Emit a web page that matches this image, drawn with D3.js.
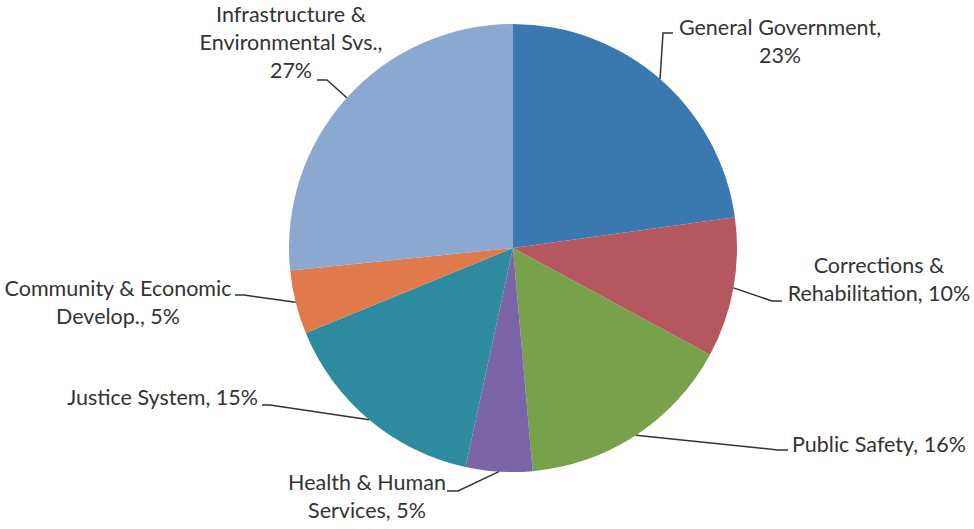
<!DOCTYPE html>
<html>
<head>
<meta charset="utf-8">
<script src="https://cdn.jsdelivr.net/npm/d3@7"></script>
<style>
  body { margin: 0; background: #fff; }
  text { font-family: Lato, "Open Sans", sans-serif; fill: #333; }
</style>
</head>
<body>
<div id="chart"></div>
<script>
// Slice data (clockwise from 12 o'clock)
var categories = ["General Government", "Corrections & Rehabilitation", "Public Safety",
    "Health & Human Services", "Justice System", "Community & Economic Develop.",
    "Infrastructure & Environmental Svs."];
var values = [22.8, 10.1, 15.7, 4.8, 15.4, 4.6, 26.6];
// Label text lines as printed on the chart ({p} is the percentage)
var labelLines = [
    ["General Government,", "{p}"],
    ["Corrections &", "Rehabilitation, {p}"],
    ["Public Safety, {p}"],
    ["Health & Human", "Services, {p}"],
    ["Justice System, {p}"],
    ["Community & Economic", "Develop., {p}"],
    ["Infrastructure &", "Environmental Svs.,", "{p}"]
];
var colors = ["#3a79b0", "#b5575e", "#77a14b", "#7a63a7", "#2e8a9e", "#e07a4d", "#8ba8d0"];

var width = 974, height = 529;
var cx = 513, cy = 248, radius = 224;

// label layout: text anchor x, first baseline, anchor, leader elbow + end
var labelLayout = [
    { x: 780, y: 35, anchor: "middle", path: [[663, 33], [673, 33]] },
    { x: 879, y: 273, anchor: "middle", path: [[772, 301], [782, 301]] },
    { x: 792, y: 452, anchor: "start", path: [[778, 450], [788, 450]] },
    { x: 367, y: 490, anchor: "middle", path: [[458, 491], [447, 491]] },
    { x: 258, y: 405, anchor: "end", path: [[270, 405], [262, 405]] },
    { x: 118, y: 296, anchor: "middle", path: [[244, 295], [235, 295]] },
    { x: 291, y: 22, anchor: "middle", path: [[327, 80], [317, 80]] }
];
var lineHeight = 28;

var svg = d3.select("#chart")
    .append("svg")
    .attr("width", width)
    .attr("height", height);

var g = svg.append("g")
    .attr("transform", "translate(" + cx + "," + cy + ")");

var pie = d3.pie().sort(null).value(function (d) { return d; });
var arcs = pie(values);
var total = d3.sum(values);

var arc = d3.arc().innerRadius(0).outerRadius(radius);
var edgeArc = d3.arc().innerRadius(radius).outerRadius(radius);

g.selectAll("path.slice")
    .data(arcs)
    .join("path")
    .attr("class", "slice")
    .attr("d", arc)
    .attr("fill", function (d, i) { return colors[i]; });

// leader lines
var line = d3.line();
svg.selectAll("path.leader")
    .data(arcs)
    .join("path")
    .attr("class", "leader")
    .attr("d", function (d, i) {
        var c = edgeArc.centroid(d);
        var pts = [[c[0] + cx, c[1] + cy]].concat(labelLayout[i].path);
        return line(pts);
    })
    .attr("fill", "none")
    .attr("stroke", "#333")
    .attr("stroke-width", 1.5);

// labels
arcs.forEach(function (d, i) {
    var pct = Math.round(d.value / total * 100) + "%";
    var lay = labelLayout[i];
    var t = svg.append("text")
        .attr("text-anchor", lay.anchor)
        .attr("font-size", "21.5px");
    labelLines[i].forEach(function (s, j) {
        t.append("tspan")
            .attr("x", lay.x)
            .attr("y", lay.y + j * lineHeight)
            .text(s.replace("{p}", pct));
    });
});
</script>
</body>
</html>
